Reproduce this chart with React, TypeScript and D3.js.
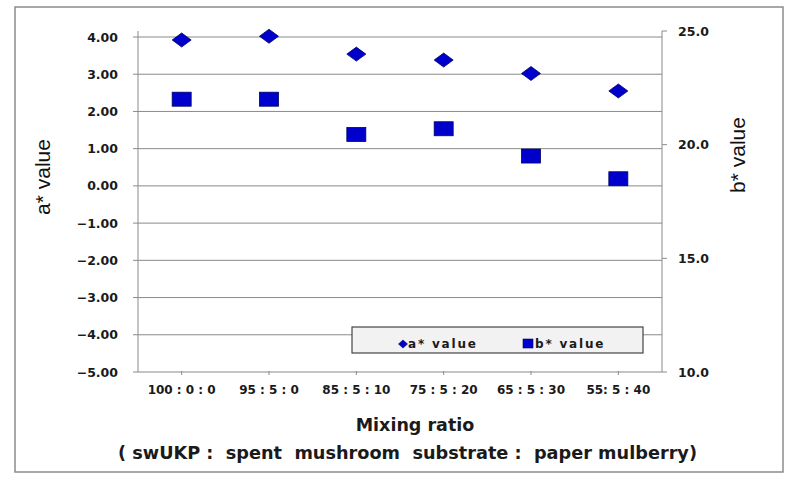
import React from "react";
import * as d3 from "d3";

const categories = ["100 : 0 : 0", "95 : 5 : 0", "85 : 5 : 10", "75 : 5 : 20", "65 : 5 : 30", "55: 5 : 40"];
const aValues = [3.92, 4.02, 3.54, 3.38, 3.02, 2.55];
const bValues = [22.0, 22.0, 20.45, 20.7, 19.5, 18.5];
const leftTicks = [4, 3, 2, 1, 0, -1, -2, -3, -4, -5];
const rightTicks = [10, 15, 20, 25];
const xTitle = "Mixing ratio";
const subTitle = "( swUKP :  spent  mushroom  substrate :  paper mulberry)";
const leftTitle = "a* value";
const rightTitle = "b* value";
const legendLabels = ["a* value", "b* value"];

const W = 801, H = 479;
const L = 138, R = 662, T = 31, B = 372;
const FILL = "#0000cc", STROKE = "#000066";
const TICKFONT = "'DejaVu Sans', Verdana, sans-serif";

export default function App() {
  const x = d3.scaleBand<string>().domain(categories).range([L, R]);
  const yL = d3.scaleLinear().domain([-5, 4]).range([B, 37]);
  const yR = d3.scaleLinear().domain([10, 25]).range([B, T]);
  const mw = 19, mh = 14;
  const diamond = (cx: number, cy: number, w: number, h: number) =>
    `M${cx},${cy - h / 2}L${cx + w / 2},${cy}L${cx},${cy + h / 2}L${cx - w / 2},${cy}Z`;
  return (
    <svg width={W} height={H} style={{ position: "absolute", left: 0, top: 0, background: "#fff" }}>
      <rect x={15} y={7} width={768} height={465} fill="#fff" stroke="#8c8c8c" strokeWidth={1.5} />
      {leftTicks.map((t) => (
        <line key={"g" + t} x1={L - 5} x2={R} y1={yL(t)} y2={yL(t)} stroke="#8a8a8a" strokeWidth={1} />
      ))}
      <line x1={L} x2={L} y1={T} y2={B} stroke="#8a8a8a" />
      {leftTicks.map((t) => (
        <text key={"l" + t} x={118} y={yL(t) + 4.5} textAnchor="end" fontFamily={TICKFONT} fontWeight="bold" fontSize={12.5} fill="#1a1a1a">
          {d3.format(".2f")(t)}
        </text>
      ))}
      <line x1={R} x2={R} y1={T} y2={B} stroke="#8a8a8a" />
      {rightTicks.map((t) => (
        <g key={"r" + t}>
          <line x1={R} x2={R + 5} y1={yR(t)} y2={yR(t)} stroke="#8a8a8a" />
          <text x={678} y={yR(t) + 4.5} fontFamily={TICKFONT} fontWeight="bold" fontSize={12.5} fill="#1a1a1a">
            {d3.format(".1f")(t)}
          </text>
        </g>
      ))}
      {categories.map((c) => {
        const cx = x(c)! + x.bandwidth() / 2;
        return (
          <g key={c}>
            <line x1={cx} x2={cx} y1={B - 1} y2={B + 3} stroke="#8a8a8a" />
            <text x={cx} y={394} textAnchor="middle" fontFamily={TICKFONT} fontWeight="bold" fontSize={12} fill="#1a1a1a">
              {c}
            </text>
          </g>
        );
      })}
      {categories.map((c, i) => {
        const cx = x(c)! + x.bandwidth() / 2;
        return (
          <g key={"m" + c}>
            <path d={diamond(cx, yL(aValues[i]), mw, mh)} fill={FILL} stroke={STROKE} strokeWidth={0.8} />
            <rect x={cx - mw / 2} y={yR(bValues[i]) - mh / 2} width={mw} height={mh} fill={FILL} stroke={STROKE} strokeWidth={0.8} />
          </g>
        );
      })}
      <rect x={352} y={327} width={291} height={26} fill="#f2f2f2" stroke="#444" strokeWidth={1.2} />
      <path d={diamond(403, 344, 9, 8)} fill={FILL} stroke={STROKE} strokeWidth={0.6} />
      <text x={408} y={348} fontFamily={TICKFONT} fontWeight="bold" fontSize={12} letterSpacing={1.8} fill="#1a1a1a">
        {legendLabels[0]}
      </text>
      <rect x={523} y={339} width={10} height={9} fill={FILL} stroke={STROKE} strokeWidth={0.6} />
      <text x={535} y={348} fontFamily={TICKFONT} fontWeight="bold" fontSize={12} letterSpacing={1.8} fill="#1a1a1a">
        {legendLabels[1]}
      </text>
      <text transform="translate(50,177) rotate(-90)" textAnchor="middle" fontFamily="'Liberation Sans', Arial, sans-serif" fontSize={21} fill="#111">
        {leftTitle}
      </text>
      <text transform="translate(745,155) rotate(-90)" textAnchor="middle" fontFamily="'Liberation Sans', Arial, sans-serif" fontSize={21} fill="#111">
        {rightTitle}
      </text>
      <text x={415} y={431} textAnchor="middle" fontFamily={TICKFONT} fontWeight="bold" fontSize={17.5} fill="#1a1a1a">
        {xTitle}
      </text>
      <text x={118} y={459} textLength={579} lengthAdjust="spacingAndGlyphs" fontFamily={TICKFONT} fontWeight="bold" fontSize={17} fill="#1a1a1a" style={{ whiteSpace: "pre" }}>
        {subTitle}
      </text>
    </svg>
  );
}
